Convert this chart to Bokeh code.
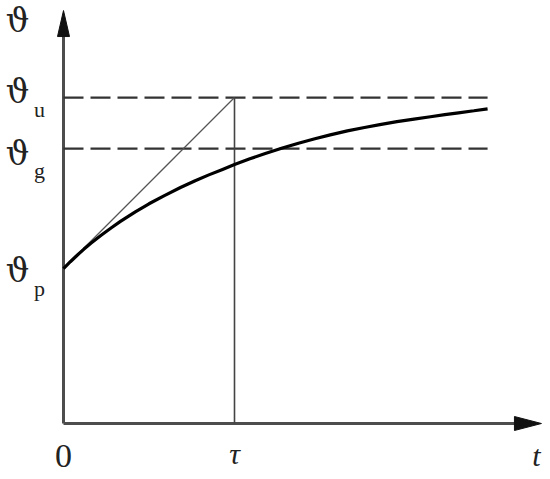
from bokeh.plotting import figure
from bokeh.embed import file_html
from bokeh.resources import INLINE
from bokeh.core.properties import value

# ---- data (units: tau = 1, theta_u - theta_p = 1) ----
tau = 1.0
theta_p = 0.906
theta_g = 1.608
theta_u = 1.906
t_end = 2.48
t_axis_end = 2.795
y_axis_end = 2.415

curve_t = [0.0, 0.04, 0.08, 0.12, 0.16, 0.22, 0.28, 0.333, 0.42, 0.50, 0.59, 0.684, 0.77, 0.85, 0.93,
           1.0, 1.09, 1.18, 1.28, 1.374, 1.47, 1.56, 1.66, 1.76, 1.85, 1.95, 2.05, 2.146, 2.23, 2.31, 2.40, 2.48]
curve_y = [0.906, 0.946, 0.984, 1.020, 1.054, 1.101, 1.145, 1.182, 1.238, 1.285, 1.333, 1.380, 1.420,
           1.454, 1.486, 1.514, 1.548, 1.579, 1.611, 1.639, 1.665, 1.688, 1.711, 1.731, 1.748, 1.765,
           1.780, 1.794, 1.806, 1.817, 1.829, 1.840]

# ---- figure geometry ----
W, H = 546, 475
PX = 171.0            # pixels per unit (both axes)
ORX, ORY = 63, 423    # origin inside the figure (px)
x0 = -ORX / PX
x1 = x0 + W / PX
y1 = ORY / PX
y0 = y1 - H / PX

p = figure(width=W, height=H, x_range=(x0, x1), y_range=(y0, y1),
           output_backend="svg", toolbar_location=None, min_border=0)
p.axis.visible = False
p.grid.visible = False
p.outline_line_color = None
p.background_fill_color = "white"

AX = "#4d4d4d"
INK = "#222222"

# axes
p.line([0, 0], [0, y_axis_end - 10 / PX], line_color=AX, line_width=3)
p.line([0, t_axis_end - 10 / PX], [0, 0], line_color=AX, line_width=3)
# arrow heads
p.patch([0, -6 / PX, 6 / PX], [y_axis_end, y_axis_end - 26 / PX, y_axis_end - 26 / PX],
        fill_color="#111111", line_color="#111111")
p.patch([t_axis_end, t_axis_end - 27 / PX, t_axis_end - 27 / PX], [0, 7 / PX, -7 / PX],
        fill_color="#111111", line_color="#111111")

# dashed levels
p.line([0, t_end], [theta_u, theta_u], line_color="#333333", line_width=2.2, line_dash="20 7")
p.line([0, t_end], [theta_g, theta_g], line_color="#333333", line_width=2.2, line_dash="20 7")

# tangent and tau line
p.line([0, tau], [theta_p, theta_u], line_color="#555555", line_width=1.3)
p.line([tau, tau], [0, theta_u], line_color="#444444", line_width=1.6)

# response curve
p.line(curve_t, curve_y, line_color="black", line_width=3.2)

SERIF = value("DejaVu Serif")
SERIF2 = value("Liberation Serif")

def lbl(x, y, txt, size, xo=0, yo=0, style="normal", font=SERIF2):
    p.text(x=[x], y=[y], text=[txt], x_offset=xo, y_offset=yo,
           text_font=font, text_font_size=size, text_font_style=style,
           text_color=INK, text_align="center", text_baseline="middle")

lx = -46 / PX
lbl(lx, y_axis_end, "ϑ", "33px", yo=10, font=SERIF)
lbl(lx, theta_u, "ϑ", "33px", yo=-6, font=SERIF)
lbl(lx, theta_u, "u", "22px", xo=22, yo=12)
lbl(lx, theta_g, "ϑ", "33px", yo=5, font=SERIF)
lbl(lx, theta_g, "g", "22px", xo=22, yo=22)
lbl(lx, theta_p, "ϑ", "33px", yo=2, font=SERIF)
lbl(lx, theta_p, "p", "22px", xo=22, yo=20)
lbl(0, 0, "0", "34px", yo=32)
lbl(tau, 0, "τ", "30px", yo=30, style="italic")
lbl(t_axis_end - 5 / PX, 0, "t", "30px", yo=32, style="italic")

open("out.html", "w").write(file_html(p, INLINE))
